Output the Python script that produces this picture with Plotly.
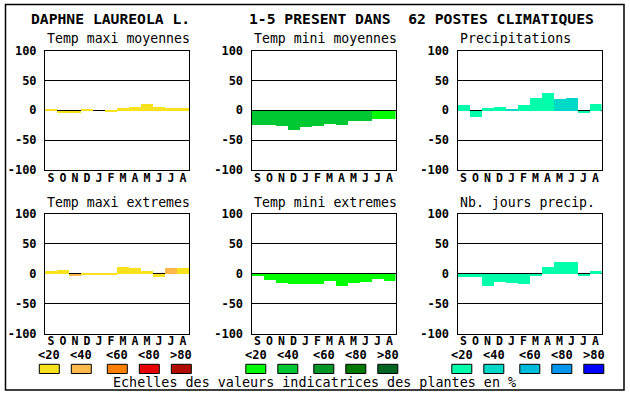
import plotly.graph_objects as go

# ---------------- data ----------------
months = ["S", "O", "N", "D", "J", "F", "M", "A", "M", "J", "J", "A"]

panel_titles = ["Temp maxi moyennes", "Temp mini moyennes", "Precipitations",
                "Temp maxi extremes", "Temp mini extremes", "Nb. jours precip."]

temp_maxi_moy = [2, -4, -4, 2, 0, -2, 4, 7, 11, 6, 4, 4]
temp_maxi_moy_cls = [0, 0, 0, 0, 0, 0, 0, 0, 0, 0, 0, 0]

temp_mini_moy = [-24, -24, -26, -32, -27, -26, -22, -24, -17, -17, -14, -14]
temp_mini_moy_cls = [1, 1, 1, 1, 1, 1, 1, 1, 1, 1, 0, 0]

precip = [10, -11, 5, 7, 3, 10, 22, 30, 20, 22, -4, 12]
precip_cls = [0, 0, 0, 0, 1, 0, 0, 0, 1, 1, 0, 0]

temp_maxi_ext = [5, 7, -4, -2, -2, -2, 12, 10, 4, -6, 10, 10]
temp_maxi_ext_cls = [0, 0, 1, 0, 0, 0, 0, 0, 0, 0, 1, 0]

temp_mini_ext = [-4, -10, -15, -17, -17, -17, -12, -21, -15, -14, -8, -12]
temp_mini_ext_cls = [0, 0, 0, 0, 0, 0, 0, 0, 0, 0, 0, 0]

nb_jours = [-5, -5, -20, -14, -15, -17, -4, 12, 20, 20, -4, 5]
nb_jours_cls = [0, 0, 0, 0, 0, 0, 0, 0, 0, 0, 0, 0]

y_ticks = [-100, -50, 0, 50, 100]
legend_labels = ["<20", "<40", "<60", "<80", ">80"]

title_left = "DAPHNE LAUREOLA L."
title_right = "1-5 PRESENT DANS  62 POSTES CLIMATIQUES"
footer = "Echelles des valeurs indicatrices des plantes en %"

# ---------------- style ----------------
pal_warm = ["#F8E21E", "#FFB84C", "#FF8000", "#E80000", "#B00C00"]
pal_green = ["#00FF00", "#00C832", "#009628", "#007800", "#006422"]
pal_aqua = ["#00FFAA", "#00D8C8", "#00BCDC", "#0096EE", "#0000FF"]
palettes = [pal_warm, pal_green, pal_aqua]

W, H = 630, 394
MONO = "DejaVu Sans Mono"
col_left = [45, 251.5, 457.5]
plot_w = 144
row_top = [50.5, 214]
plot_h = 119.5

panels = [
    (temp_maxi_moy, temp_maxi_moy_cls, 0, 0),
    (temp_mini_moy, temp_mini_moy_cls, 1, 0),
    (precip, precip_cls, 2, 0),
    (temp_maxi_ext, temp_maxi_ext_cls, 0, 1),
    (temp_mini_ext, temp_mini_ext_cls, 1, 1),
    (nb_jours, nb_jours_cls, 2, 1),
]

fig = go.Figure()
annotations = []
shapes = []
idx = list(range(len(months)))

for i, (vals, cls, col, row) in enumerate(panels):
    n = "" if i == 0 else str(i + 1)
    pal = palettes[col]
    fig.add_trace(go.Bar(
        x=idx, y=vals, width=1,
        marker=dict(color=[pal[c] for c in cls], line=dict(width=0)),
        xaxis="x" + n, yaxis="y" + n, showlegend=False,
        hovertemplate="%{y}<extra></extra>",
    ))
    l = col_left[col]
    t = row_top[row]
    xd = [l / W, (l + plot_w) / W]
    yd = [1 - (t + plot_h) / H, 1 - t / H]
    fig.update_layout(**{
        "xaxis" + n: dict(
            domain=xd, anchor="y" + n, range=[-0.5, 11.5], automargin=False,
            tickmode="array", tickvals=idx, ticktext=months,
            showgrid=False, zeroline=False,
            showline=True, mirror=True, linecolor="black", linewidth=1,
            ticks="", ticklabelstandoff=-3,
            tickfont=dict(family=MONO, size=11.5, color="black", weight="bold"),
            layer="above traces", fixedrange=True,
        ),
        "yaxis" + n: dict(
            domain=yd, anchor="x" + n, range=[-100, 100], automargin=False,
            tickmode="array", tickvals=y_ticks,
            ticktext=[str(v) for v in y_ticks],
            showgrid=True, gridcolor="black", gridwidth=1,
            zeroline=True, zerolinecolor="black", zerolinewidth=1,
            showline=True, mirror=True, linecolor="black", linewidth=1,
            ticks="", ticklabelstandoff=5,
            tickfont=dict(family=MONO, size=12, color="black", weight="bold"),
            layer="above traces", fixedrange=True,
        ),
    })
    # panel subtitle
    annotations.append(dict(
        text=panel_titles[i], x=l / W, y=1 - (t - 12) / H,
        xref="paper", yref="paper", xanchor="left", yanchor="middle",
        showarrow=False, font=dict(family=MONO, size=13.2, color="black"),
    ))

# legends under bottom row
leg_offsets = [-5.7, 26.3, 62.3, 94.3, 126.3]
for col in range(3):
    for k, lab in enumerate(legend_labels):
        x0 = col_left[col] + leg_offsets[k]
        shapes.append(dict(
            type="rect", xref="paper", yref="paper",
            x0=x0 / W, x1=(x0 + 20) / W, y0=1 - 373.5 / H, y1=1 - 364.3 / H,
            fillcolor=palettes[col][k], line=dict(color="black", width=1),
        ))
        annotations.append(dict(
            text=lab, x=(x0 + 10) / W, y=1 - 354.5 / H,
            xref="paper", yref="paper", xanchor="center", yanchor="middle",
            showarrow=False,
            font=dict(family=MONO, size=12, color="black", weight="bold"),
        ))

annotations.append(dict(
    text=footer, x=314 / W, y=1 - 382.5 / H, xref="paper", yref="paper",
    xanchor="center", yanchor="middle", showarrow=False,
    font=dict(family=MONO, size=13.4, color="black"),
))
annotations.append(dict(
    text=title_left, x=110.5 / W, y=1 - 18 / H, xref="paper", yref="paper",
    xanchor="center", yanchor="middle", showarrow=False,
    font=dict(family=MONO, size=14.7, color="black", weight="bold"),
))
annotations.append(dict(
    text=title_right, x=247 / W, y=1 - 18 / H, xref="paper", yref="paper",
    xanchor="left", yanchor="middle", showarrow=False,
    font=dict(family=MONO, size=14.7, color="black", weight="bold"),
))

# outer frame
shapes.append(dict(
    type="rect", xref="paper", yref="paper",
    x0=5.5 / W, x1=624 / W, y0=1 - 390 / H, y1=1 - 4.5 / H,
    line=dict(color="black", width=1.5), fillcolor="rgba(0,0,0,0)", layer="below",
))

fig.update_layout(
    template="none",
    width=W, height=H, autosize=False,
    margin=dict(l=0, r=0, t=0, b=0, pad=0, autoexpand=False),
    paper_bgcolor="white", plot_bgcolor="white",
    bargap=0, barmode="overlay",
    annotations=annotations, shapes=shapes,
    font=dict(family=MONO, color="black"),
)

fig.write_html(
    "out.html",
    config={"displayModeBar": False},
    post_script="document.body.style.margin='0px';document.body.style.overflow='hidden';",
)
